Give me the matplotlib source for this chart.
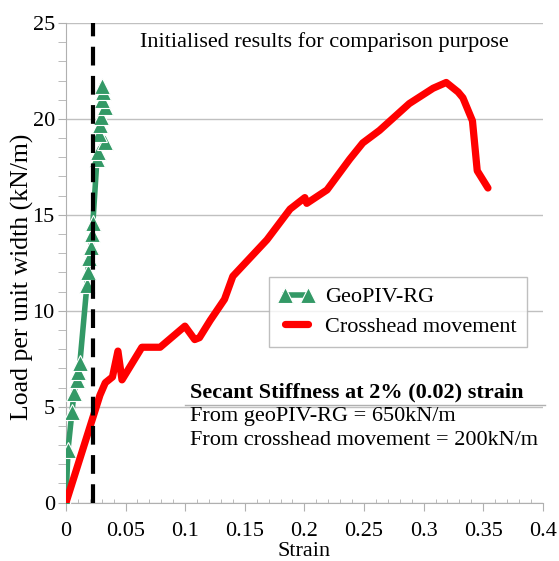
import matplotlib
matplotlib.use('Agg')
import matplotlib.pyplot as plt
from matplotlib.ticker import MultipleLocator

plt.rcParams['font.family'] = ['Liberation Serif', 'DejaVu Serif']

# geoPIV-RG readings
geo_strain = [0, 0.0017, 0.005, 0.0067, 0.009, 0.010, 0.0117, 0.0176, 0.0185, 0.019,
              0.021, 0.022, 0.0226, 0.026, 0.027, 0.0327, 0.028, 0.0285, 0.029, 0.0327,
              0.030, 0.031, 0.0305]
geo_load = [0, 2.76, 4.7, 5.7, 6.4, 6.8, 7.3, 11.35, 12.0, 12.75,
            13.3, 14.0, 14.6, 17.9, 18.3, 18.8, 19.2, 19.7, 20.1, 20.6,
            21.0, 21.4, 21.7]

# crosshead movement
ch_strain = [0, 0.0285, 0.033, 0.039, 0.0436, 0.047, 0.0637, 0.079, 0.0998, 0.108,
             0.112, 0.121, 0.133, 0.140, 0.1686, 0.188, 0.2004, 0.202, 0.219, 0.238,
             0.249, 0.263, 0.288, 0.308, 0.319, 0.329, 0.333, 0.341, 0.345, 0.354]
ch_load = [0, 5.6, 6.25, 6.55, 7.9, 6.4, 8.1, 8.1, 9.2, 8.5,
           8.6, 9.5, 10.6, 11.8, 13.7, 15.3, 15.9, 15.6, 16.3, 17.9,
           18.75, 19.4, 20.8, 21.6, 21.9, 21.4, 21.1, 19.9, 17.3, 16.4]

secant_strain = 0.0226

fig = plt.figure(figsize=(5.59, 5.61), dpi=100)
ax = fig.add_axes([0.118, 0.104, 0.853, 0.855])

ax.plot(geo_strain, geo_load, color='#339966', lw=4, marker='^', ms=11,
        mec='white', mew=0.8, label='GeoPIV-RG', zorder=3)
ax.plot(ch_strain, ch_load, color='red', lw=5.2, solid_joinstyle='round',
        solid_capstyle='round', label='Crosshead movement', zorder=3)
ax.plot([secant_strain, secant_strain], [0, 25], color='black', lw=3,
        dashes=(4.5, 2.5), zorder=4)

ax.set_xlim(0, 0.4)
ax.set_ylim(0, 25)
ax.xaxis.set_minor_locator(MultipleLocator(0.01))
ax.yaxis.set_major_locator(MultipleLocator(5))
ax.yaxis.set_minor_locator(MultipleLocator(1))
ax.set_xticks([0, 0.05, 0.1, 0.15, 0.2, 0.25, 0.3, 0.35, 0.4])
ax.set_xticklabels(['0', '0.05', '0.1', '0.15', '0.2', '0.25', '0.3', '0.35', '0.4'])
ax.grid(axis='y', color='#c0c0c0', lw=1)
ax.set_axisbelow(True)
for s in ['top', 'right']:
    ax.spines[s].set_visible(False)
for s in ['left', 'bottom']:
    ax.spines[s].set_color('#b0b0b0')
ax.tick_params(which='major', direction='out', length=6, color='#b0b0b0',
               labelsize=16, pad=2)
ax.tick_params(axis='x', which='major', pad=8)
ax.tick_params(axis='x', which='minor', direction='in', length=3, color='#b0b0b0')
ax.tick_params(axis='y', which='minor', direction='out', length=6, color='#b0b0b0')

ax.set_xlabel('Strain', fontsize=16, labelpad=1)
ax.set_ylabel('Load per unit width (kN/m)', fontsize=18.5, labelpad=0)
ax.yaxis.set_label_coords(-0.068, 0.47)

ax.text(0.217, 24.0, 'Initialised results for comparison purpose', fontsize=16,
        ha='center', va='center')

leg = ax.legend(loc='upper left', bbox_to_anchor=(0.425, 0.471), fontsize=16,
                frameon=True, fancybox=False, edgecolor='#b0b0b0',
                handlelength=1.6, handletextpad=0.5, borderpad=0.45,
                labelspacing=0.4, numpoints=2, borderaxespad=0)
leg.get_frame().set_linewidth(1)

ax.text(0.104, 5.75, 'Secant Stiffness at 2% (0.02) strain', fontsize=16,
        fontweight='bold', va='center')
ax.plot([0.1, 0.402], [5.1, 5.1], color='#b0b0b0', lw=1, clip_on=False)
ax.text(0.104, 4.5, 'From geoPIV-RG = 650kN/m', fontsize=16, va='center')
ax.text(0.104, 3.25, 'From crosshead movement = 200kN/m', fontsize=16, va='center')

fig.savefig('out.png', dpi=100)
